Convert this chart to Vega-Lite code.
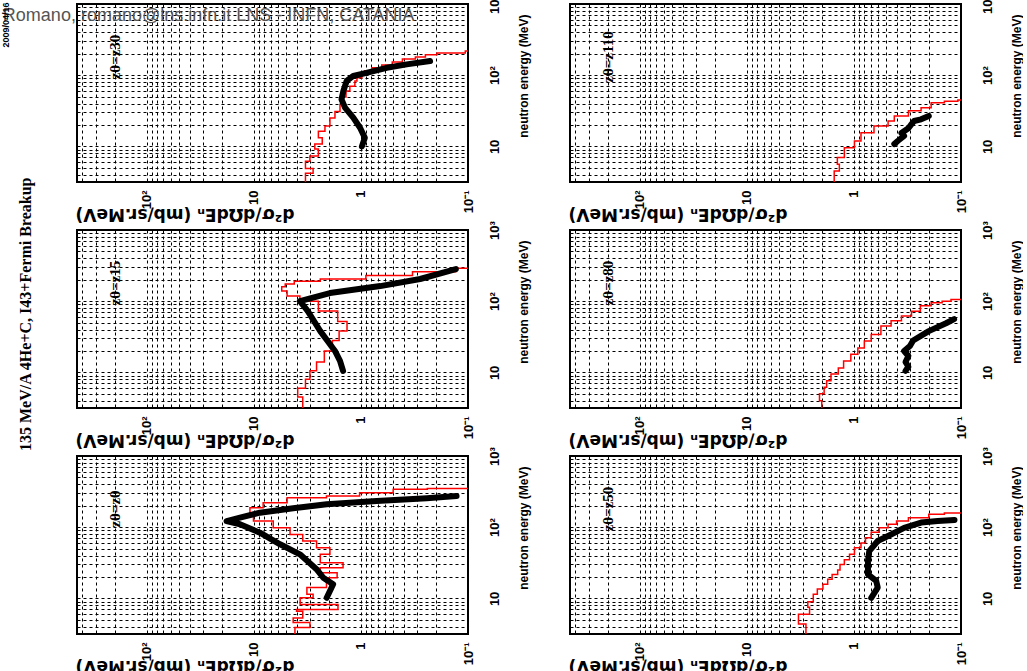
{
"$schema": "https://vega.github.io/schema/vega-lite/v6.json",
"autosize": {"type": "pad"},
"padding": {"left": 0, "top": -7, "right": 0, "bottom": 0},
"background": "white",
"title": {"text": "135 MeV/A 4He+C, I43+Fermi Breakup", "orient": "left", "anchor": "middle", "font": "Liberation Serif", "fontWeight": "bold", "fontSize": 16, "color": "black", "offset": -33, "dx": 20},
"data": {"values": [
{"r":1,"c":1,"s":"calc","E":3.0,"xs":3.3},{"r":1,"c":1,"s":"calc","E":4.2,"xs":2.8},{"r":1,"c":1,"s":"calc","E":4.9,"xs":3.3},{"r":1,"c":1,"s":"calc","E":6.2,"xs":3.0},{"r":1,"c":1,"s":"calc","E":7.3,"xs":2.5},{"r":1,"c":1,"s":"calc","E":9.2,"xs":2.7},{"r":1,"c":1,"s":"calc","E":10.8,"xs":2.3},{"r":1,"c":1,"s":"calc","E":13.2,"xs":2.5},{"r":1,"c":1,"s":"calc","E":16.3,"xs":2.17},{"r":1,"c":1,"s":"calc","E":19.3,"xs":1.95},{"r":1,"c":1,"s":"calc","E":25,"xs":1.75},{"r":1,"c":1,"s":"calc","E":31,"xs":1.57},{"r":1,"c":1,"s":"calc","E":39,"xs":1.47},{"r":1,"c":1,"s":"calc","E":49.5,"xs":1.38},{"r":1,"c":1,"s":"calc","E":60,"xs":1.27},{"r":1,"c":1,"s":"calc","E":70,"xs":1.14},{"r":1,"c":1,"s":"calc","E":83,"xs":1.09},{"r":1,"c":1,"s":"calc","E":92,"xs":0.98},{"r":1,"c":1,"s":"calc","E":100,"xs":0.92},{"r":1,"c":1,"s":"calc","E":115,"xs":0.79},{"r":1,"c":1,"s":"calc","E":127,"xs":0.64},{"r":1,"c":1,"s":"calc","E":139,"xs":0.51},{"r":1,"c":1,"s":"calc","E":153,"xs":0.41},{"r":1,"c":1,"s":"calc","E":169,"xs":0.31},{"r":1,"c":1,"s":"calc","E":180,"xs":0.25},{"r":1,"c":1,"s":"calc","E":193,"xs":0.195},{"r":1,"c":1,"s":"calc","E":205,"xs":0.106},{"r":1,"c":1,"s":"calc","E":219,"xs":0.05},
{"r":1,"c":1,"s":"exp","E":10,"xs":0.98},{"r":1,"c":1,"s":"exp","E":13.2,"xs":0.92},{"r":1,"c":1,"s":"exp","E":18.3,"xs":1.02},{"r":1,"c":1,"s":"exp","E":25.3,"xs":1.18},{"r":1,"c":1,"s":"exp","E":35,"xs":1.41},{"r":1,"c":1,"s":"exp","E":45.8,"xs":1.52},{"r":1,"c":1,"s":"exp","E":60,"xs":1.46},{"r":1,"c":1,"s":"exp","E":83,"xs":1.36},{"r":1,"c":1,"s":"exp","E":97.5,"xs":1.18},{"r":1,"c":1,"s":"exp","E":108,"xs":0.89},{"r":1,"c":1,"s":"exp","E":127,"xs":0.575},{"r":1,"c":1,"s":"exp","E":142,"xs":0.374},{"r":1,"c":1,"s":"exp","E":158,"xs":0.226},
{"r":1,"c":1,"s":"lab","E":180,"xs":200,"t":"zθ=z30"},
{"r":1,"c":1,"s":"note","E":680,"xs":2218,"t":"Romano, romano@lns.infn.it LNS - INFN, CATANIA"},
{"r":1,"c":1,"s":"date","E":507,"xs":2085,"t":"2009/04/16"},
{"r":2,"c":1,"s":"calc","E":3.0,"xs":3.5},{"r":2,"c":1,"s":"calc","E":4.5,"xs":3.9},{"r":2,"c":1,"s":"calc","E":6,"xs":3.3},{"r":2,"c":1,"s":"calc","E":8,"xs":3.0},{"r":2,"c":1,"s":"calc","E":10.5,"xs":2.6},{"r":2,"c":1,"s":"calc","E":14,"xs":2.2},{"r":2,"c":1,"s":"calc","E":20,"xs":1.85},{"r":2,"c":1,"s":"calc","E":28,"xs":1.6},{"r":2,"c":1,"s":"calc","E":38,"xs":1.35},{"r":2,"c":1,"s":"calc","E":52,"xs":1.65},{"r":2,"c":1,"s":"calc","E":73,"xs":2.5},{"r":2,"c":1,"s":"calc","E":100,"xs":3.72},{"r":2,"c":1,"s":"calc","E":118,"xs":4.9},{"r":2,"c":1,"s":"calc","E":139,"xs":5.5},{"r":2,"c":1,"s":"calc","E":160,"xs":5.1},{"r":2,"c":1,"s":"calc","E":175,"xs":4.2},{"r":2,"c":1,"s":"calc","E":190,"xs":2.4},{"r":2,"c":1,"s":"calc","E":205,"xs":0.9},{"r":2,"c":1,"s":"calc","E":230,"xs":0.33},{"r":2,"c":1,"s":"calc","E":260,"xs":0.13},{"r":2,"c":1,"s":"calc","E":290,"xs":0.05},
{"r":2,"c":1,"s":"exp","E":10.5,"xs":1.47},{"r":2,"c":1,"s":"exp","E":14.5,"xs":1.57},{"r":2,"c":1,"s":"exp","E":20,"xs":1.75},{"r":2,"c":1,"s":"exp","E":27.6,"xs":2.05},{"r":2,"c":1,"s":"exp","E":38,"xs":2.4},{"r":2,"c":1,"s":"exp","E":52.7,"xs":2.75},{"r":2,"c":1,"s":"exp","E":73,"xs":3.15},{"r":2,"c":1,"s":"exp","E":100,"xs":3.72},{"r":2,"c":1,"s":"exp","E":130,"xs":1.95},{"r":2,"c":1,"s":"exp","E":163,"xs":0.66},{"r":2,"c":1,"s":"exp","E":205,"xs":0.28},{"r":2,"c":1,"s":"exp","E":283,"xs":0.13},
{"r":2,"c":1,"s":"lab","E":180,"xs":200,"t":"zθ=z15"},
{"r":3,"c":1,"s":"calc","E":3.0,"xs":4.14},{"r":3,"c":1,"s":"calc","E":3.9,"xs":3.0},{"r":3,"c":1,"s":"calc","E":4.6,"xs":4.3},{"r":3,"c":1,"s":"calc","E":5.3,"xs":3.5},{"r":3,"c":1,"s":"calc","E":6.6,"xs":4.0},{"r":3,"c":1,"s":"calc","E":7.0,"xs":1.64},{"r":3,"c":1,"s":"calc","E":8.2,"xs":3.7},{"r":3,"c":1,"s":"calc","E":10.2,"xs":2.8},{"r":3,"c":1,"s":"calc","E":11.4,"xs":3.2},{"r":3,"c":1,"s":"calc","E":14.2,"xs":2.1},{"r":3,"c":1,"s":"calc","E":19.5,"xs":1.67},{"r":3,"c":1,"s":"calc","E":23,"xs":2.4},{"r":3,"c":1,"s":"calc","E":27,"xs":1.47},{"r":3,"c":1,"s":"calc","E":31.6,"xs":2.4},{"r":3,"c":1,"s":"calc","E":41.6,"xs":1.95},{"r":3,"c":1,"s":"calc","E":51.5,"xs":2.6},{"r":3,"c":1,"s":"calc","E":64,"xs":3.5},{"r":3,"c":1,"s":"calc","E":79,"xs":4.6},{"r":3,"c":1,"s":"calc","E":98,"xs":6.6},{"r":3,"c":1,"s":"calc","E":122,"xs":10.1},{"r":3,"c":1,"s":"calc","E":143,"xs":10.9},{"r":3,"c":1,"s":"calc","E":188,"xs":8.2},{"r":3,"c":1,"s":"calc","E":221,"xs":4.9},{"r":3,"c":1,"s":"calc","E":260,"xs":2.1},{"r":3,"c":1,"s":"calc","E":274,"xs":1.03},{"r":3,"c":1,"s":"calc","E":305,"xs":0.5},{"r":3,"c":1,"s":"calc","E":340,"xs":0.24},{"r":3,"c":1,"s":"calc","E":350,"xs":0.05},
{"r":3,"c":1,"s":"exp","E":10.2,"xs":2.09},{"r":3,"c":1,"s":"exp","E":15.8,"xs":1.82},{"r":3,"c":1,"s":"exp","E":19.5,"xs":2.25},{"r":3,"c":1,"s":"exp","E":25.7,"xs":2.6},{"r":3,"c":1,"s":"exp","E":41.6,"xs":3.72},{"r":3,"c":1,"s":"exp","E":57.5,"xs":5.7},{"r":3,"c":1,"s":"exp","E":83.8,"xs":8.8},{"r":3,"c":1,"s":"exp","E":110,"xs":13.5},{"r":3,"c":1,"s":"exp","E":122,"xs":18},{"r":3,"c":1,"s":"exp","E":136,"xs":13.5},{"r":3,"c":1,"s":"exp","E":160,"xs":8.8},{"r":3,"c":1,"s":"exp","E":184,"xs":4.3},{"r":3,"c":1,"s":"exp","E":210,"xs":2.09},{"r":3,"c":1,"s":"exp","E":233,"xs":0.713},{"r":3,"c":1,"s":"exp","E":255,"xs":0.243},{"r":3,"c":1,"s":"exp","E":274,"xs":0.128},
{"r":3,"c":1,"s":"lab","E":180,"xs":200,"t":"zθ=z0"},
{"r":1,"c":2,"s":"calc","E":3.0,"xs":1.53},{"r":1,"c":2,"s":"calc","E":4.5,"xs":1.37},{"r":1,"c":2,"s":"calc","E":5.6,"xs":1.43},{"r":1,"c":2,"s":"calc","E":7.0,"xs":1.23},{"r":1,"c":2,"s":"calc","E":9.6,"xs":0.99},{"r":1,"c":2,"s":"calc","E":11.9,"xs":0.86},{"r":1,"c":2,"s":"calc","E":15.6,"xs":0.65},{"r":1,"c":2,"s":"calc","E":19.3,"xs":0.48},{"r":1,"c":2,"s":"calc","E":22.7,"xs":0.42},{"r":1,"c":2,"s":"calc","E":26.8,"xs":0.31},{"r":1,"c":2,"s":"calc","E":31.6,"xs":0.236},{"r":1,"c":2,"s":"calc","E":35,"xs":0.19},{"r":1,"c":2,"s":"calc","E":41,"xs":0.143},{"r":1,"c":2,"s":"calc","E":43,"xs":0.107},{"r":1,"c":2,"s":"calc","E":45,"xs":0.05},
{"r":1,"c":2,"s":"exp","E":10.8,"xs":0.42},{"r":1,"c":2,"s":"exp","E":11.9,"xs":0.39},{"r":1,"c":2,"s":"exp","E":14,"xs":0.34},{"r":1,"c":2,"s":"exp","E":15.4,"xs":0.36},{"r":1,"c":2,"s":"exp","E":18,"xs":0.31},{"r":1,"c":2,"s":"exp","E":20.5,"xs":0.29},{"r":1,"c":2,"s":"exp","E":22.7,"xs":0.275},{"r":1,"c":2,"s":"exp","E":24,"xs":0.236},{"r":1,"c":2,"s":"exp","E":26.8,"xs":0.2},
{"r":1,"c":2,"s":"lab","E":180,"xs":200,"t":"zθ=z110"},
{"r":2,"c":2,"s":"calc","E":3.0,"xs":2.0},{"r":2,"c":2,"s":"calc","E":4.0,"xs":2.1},{"r":2,"c":2,"s":"calc","E":5.0,"xs":1.9},{"r":2,"c":2,"s":"calc","E":6.2,"xs":1.8},{"r":2,"c":2,"s":"calc","E":7.6,"xs":1.64},{"r":2,"c":2,"s":"calc","E":9.5,"xs":1.4},{"r":2,"c":2,"s":"calc","E":11.5,"xs":1.25},{"r":2,"c":2,"s":"calc","E":14.5,"xs":1.07},{"r":2,"c":2,"s":"calc","E":18,"xs":0.92},{"r":2,"c":2,"s":"calc","E":22,"xs":0.8},{"r":2,"c":2,"s":"calc","E":27.6,"xs":0.69},{"r":2,"c":2,"s":"calc","E":34,"xs":0.56},{"r":2,"c":2,"s":"calc","E":45,"xs":0.45},{"r":2,"c":2,"s":"calc","E":53,"xs":0.36},{"r":2,"c":2,"s":"calc","E":62,"xs":0.29},{"r":2,"c":2,"s":"calc","E":72,"xs":0.24},{"r":2,"c":2,"s":"calc","E":86,"xs":0.19},{"r":2,"c":2,"s":"calc","E":95,"xs":0.15},{"r":2,"c":2,"s":"calc","E":100,"xs":0.124},{"r":2,"c":2,"s":"calc","E":106,"xs":0.05},
{"r":2,"c":2,"s":"exp","E":10.5,"xs":0.33},{"r":2,"c":2,"s":"exp","E":12,"xs":0.31},{"r":2,"c":2,"s":"exp","E":14,"xs":0.33},{"r":2,"c":2,"s":"exp","E":17,"xs":0.31},{"r":2,"c":2,"s":"exp","E":20,"xs":0.34},{"r":2,"c":2,"s":"exp","E":23.5,"xs":0.3},{"r":2,"c":2,"s":"exp","E":28,"xs":0.28},{"r":2,"c":2,"s":"exp","E":38,"xs":0.2},{"r":2,"c":2,"s":"exp","E":49,"xs":0.138},{"r":2,"c":2,"s":"exp","E":56,"xs":0.116},
{"r":2,"c":2,"s":"lab","E":180,"xs":200,"t":"zθ=z80"},
{"r":3,"c":2,"s":"calc","E":3.0,"xs":2.81},{"r":3,"c":2,"s":"calc","E":4.35,"xs":3.3},{"r":3,"c":2,"s":"calc","E":6.0,"xs":2.6},{"r":3,"c":2,"s":"calc","E":7.5,"xs":2.7},{"r":3,"c":2,"s":"calc","E":9,"xs":2.4},{"r":3,"c":2,"s":"calc","E":11.4,"xs":2.2},{"r":3,"c":2,"s":"calc","E":13.5,"xs":1.95},{"r":3,"c":2,"s":"calc","E":15.8,"xs":1.76},{"r":3,"c":2,"s":"calc","E":18.5,"xs":1.6},{"r":3,"c":2,"s":"calc","E":21.7,"xs":1.42},{"r":3,"c":2,"s":"calc","E":25,"xs":1.35},{"r":3,"c":2,"s":"calc","E":30,"xs":1.23},{"r":3,"c":2,"s":"calc","E":35,"xs":1.1},{"r":3,"c":2,"s":"calc","E":41.6,"xs":0.99},{"r":3,"c":2,"s":"calc","E":51.5,"xs":0.86},{"r":3,"c":2,"s":"calc","E":60,"xs":0.78},{"r":3,"c":2,"s":"calc","E":71,"xs":0.69},{"r":3,"c":2,"s":"calc","E":85,"xs":0.58},{"r":3,"c":2,"s":"calc","E":98.5,"xs":0.48},{"r":3,"c":2,"s":"calc","E":110,"xs":0.4},{"r":3,"c":2,"s":"calc","E":122,"xs":0.31},{"r":3,"c":2,"s":"calc","E":136,"xs":0.2},{"r":3,"c":2,"s":"calc","E":152,"xs":0.143},{"r":3,"c":2,"s":"calc","E":158,"xs":0.05},
{"r":3,"c":2,"s":"exp","E":10.2,"xs":0.69},{"r":3,"c":2,"s":"exp","E":14.2,"xs":0.6},{"r":3,"c":2,"s":"exp","E":17.6,"xs":0.62},{"r":3,"c":2,"s":"exp","E":21.7,"xs":0.74},{"r":3,"c":2,"s":"exp","E":33.6,"xs":0.74},{"r":3,"c":2,"s":"exp","E":46,"xs":0.72},{"r":3,"c":2,"s":"exp","E":64,"xs":0.6},{"r":3,"c":2,"s":"exp","E":79,"xs":0.45},{"r":3,"c":2,"s":"exp","E":98,"xs":0.34},{"r":3,"c":2,"s":"exp","E":116,"xs":0.236},{"r":3,"c":2,"s":"exp","E":122,"xs":0.165},{"r":3,"c":2,"s":"exp","E":126,"xs":0.115},
{"r":3,"c":2,"s":"lab","E":180,"xs":200,"t":"zθ=z50"}
]},
"facet": {"row": {"field": "r", "type": "ordinal", "header": null}, "column": {"field": "c", "type": "ordinal", "header": null}},
"spacing": {"row": 48, "column": 102},
"bounds": "flush",
"resolve": {"axis": {"x": "independent", "y": "independent"}},
"spec": {
"width": 391, "height": 178,
"encoding": {
"x": {"field": "xs", "type": "quantitative", "scale": {"type": "log", "domain": [0.1, 450], "reverse": true, "nice": false},
 "axis": {"values": [0.1,0.2,0.3,0.4,0.5,0.6,0.7,0.8,0.9,1,2,3,4,5,6,7,8,9,10,20,30,40,50,60,70,80,90,100,200,300,400],
  "labelExpr": "datum.value == 100 ? '10²' : datum.value == 10 ? '10' : datum.value == 1 ? '1' : datum.value == 0.1 ? '10⁻¹' : ''",
  "labelAngle": 270, "labelAlign": "right", "labelBaseline": "middle", "labelPadding": 8, "labelOverlap": false, "labelFlush": false, "labelFontSize": 13,
  "title": "d²σ/dΩdEₙ                (mb/sr.MeV)", "titleAngle": 180, "titleAlign": "right", "titleBaseline": "middle", "titleX": -2, "titleY": 31,
  "titleFont": "DejaVu Sans", "titleFontSize": 17, "titleFontWeight": "bold"}},
"y": {"field": "E", "type": "quantitative", "scale": {"type": "log", "domain": [3.16, 1000], "nice": false},
 "axis": {"orient": "right", "values": [4,5,6,7,8,9,10,20,30,40,50,60,70,80,90,100,200,300,400,500,600,700,800,900,1000],
  "labelExpr": "datum.value == 10 ? '10' : datum.value == 100 ? '10²' : datum.value == 1000 ? '10³' : ''",
  "labelAngle": 270, "labelAlign": "center", "labelBaseline": "middle", "labelPadding": 26, "labelOverlap": false, "labelFlush": false, "labelFontSize": 13,
  "title": "neutron energy (MeV)", "titleAngle": 270, "titleAlign": "right", "titleBaseline": "middle", "titleX": 55, "titleY": 10,
  "titleFont": "Liberation Sans", "titleFontSize": 12, "titleFontWeight": "bold"}}
},
"layer": [
 {"transform": [{"filter": "datum.s == 'calc'"}], "mark": {"type": "line", "interpolate": "step-before", "color": "#ff0000", "strokeWidth": 1.5, "clip": true}, "encoding": {"order": {"field": "E", "type": "quantitative"}}},
 {"transform": [{"filter": "datum.s == 'exp'"}], "mark": {"type": "line", "color": "black", "strokeWidth": 6, "strokeCap": "round", "strokeJoin": "round", "clip": true}, "encoding": {"order": {"field": "E", "type": "quantitative"}}},
 {"transform": [{"filter": "datum.s == 'lab'"}], "mark": {"type": "text", "angle": 270, "align": "center", "baseline": "middle", "font": "Liberation Serif", "fontWeight": "bold", "fontSize": 15, "color": "black"}, "encoding": {"text": {"field": "t"}}},
 {"transform": [{"filter": "datum.s == 'note'"}], "mark": {"type": "text", "align": "left", "baseline": "middle", "font": "Liberation Sans", "fontSize": 18, "color": "#555555"}, "encoding": {"text": {"field": "t"}}},
 {"transform": [{"filter": "datum.s == 'date'"}], "mark": {"type": "text", "angle": 270, "align": "center", "baseline": "middle", "font": "Liberation Sans", "fontWeight": "bold", "fontSize": 9, "color": "black"}, "encoding": {"text": {"field": "t"}}}
]
},
"config": {
 "view": {"stroke": "black", "strokeWidth": 2},
 "axis": {"grid": true, "gridColor": "black", "gridDash": [3, 3], "gridOpacity": 1, "gridWidth": 1, "domain": false, "ticks": false,
  "labelFont": "Liberation Sans", "labelFontWeight": "bold", "labelFontSize": 12, "labelColor": "black", "titleColor": "black"}
}
}
